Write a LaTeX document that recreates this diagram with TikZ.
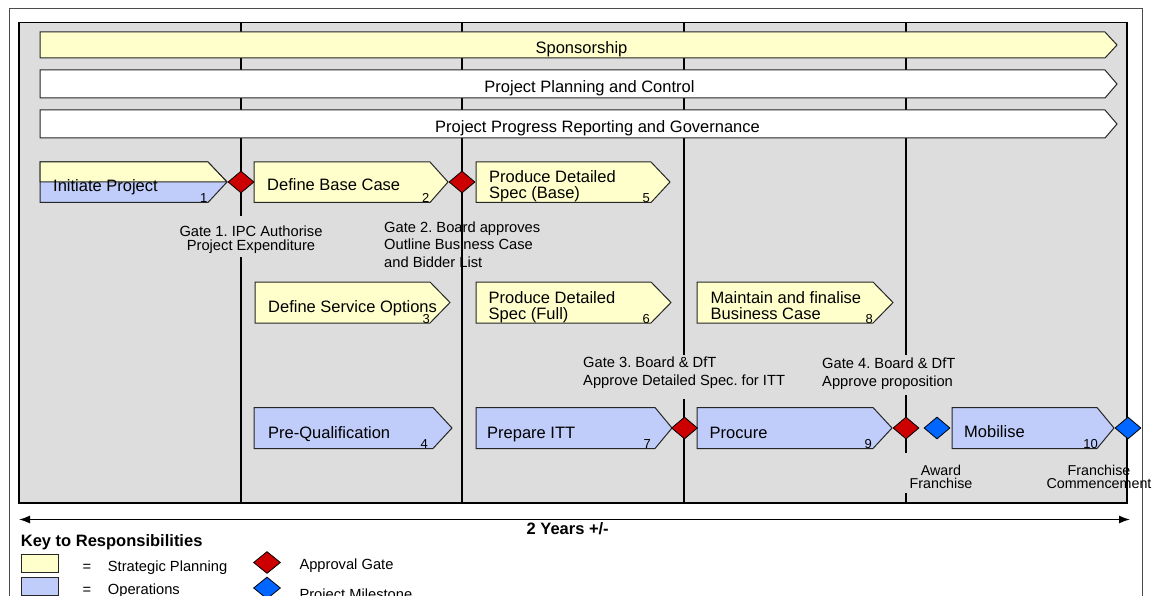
\documentclass[tikz,border=0pt]{standalone}
\usepackage{fontspec}
\setmainfont{Liberation Sans}
\usetikzlibrary{shapes.geometric}
\usetikzlibrary{arrows.meta}
\definecolor{planyellow}{HTML}{FFFFCC}
\definecolor{opsblue}{HTML}{C0CCFA}
\definecolor{panelgray}{HTML}{DDDDDD}
\definecolor{gatered}{HTML}{CC0000}
\definecolor{mileblue}{HTML}{0066FF}
\frenchspacing

\begin{document}
\begin{tikzpicture}[
x=1pt, y=-1pt,
every node/.style={inner sep=0},
bar/.style={draw=black!85, line width=1pt},
phase/.style={black, line width=1.5pt},
bartext/.style={anchor=base, font=\fontsize{16.5}{16}\selectfont},
tasktext/.style={anchor=base west, align=left, font=\fontsize{16.5}{15.6}\selectfont},
num/.style={anchor=base east, font=\fontsize{13}{13}\selectfont},
gatetext/.style={anchor=base west, align=left, font=\fontsize{14.7}{17.5}\selectfont},
gate/.style={diamond, draw=black, line width=0.8pt, fill=gatered, minimum width=26pt, minimum height=22pt},
milestone/.style={gate, fill=mileblue},
keytext/.style={anchor=base west, font=\fontsize{14.7}{14.7}\selectfont}
]
\clip (0,0) rectangle (1154,596);
% frame and panel
\draw[black!70, line width=1pt] (9.5,8.5) rectangle (1142,640);
\draw[fill=panelgray, line width=1.3pt] (19,22.5) rectangle (1127,503);
% phase lines
\draw[phase] (241,22.5) -- (241,216) (241,257) -- (241,503);
\draw[phase] (462,22.5) -- (462,503);
\draw[phase] (684,22.5) -- (684,355) (684,399) -- (684,503);
\draw[phase] (906,22.5) -- (906,355) (906,395) -- (906,453) (906,493) -- (906,503);

% full width bars
\draw[bar, fill=planyellow] (40,32) -- (1105,32) -- (1117,45) -- (1105,58) -- (40,58) -- cycle;
\draw[bar, fill=white] (40,70) -- (1105,70) -- (1117,84) -- (1105,98) -- (40,98) -- cycle;
\draw[bar, fill=white] (40,110) -- (1105,110) -- (1117,124) -- (1105,138) -- (40,138) -- cycle;
\node[bartext] (spons) at (581.5,53.5) {Sponsorship};
\node[bartext] (plan) at (589.5,93) {Project Planning and Control};
\node[bartext] (report) at (597.5,132.5) {Project Progress Reporting and Governance};

% row 1
\draw[bar, fill=opsblue] (40,162) -- (208,162) -- (227,182) -- (208,202.5) -- (40,202.5) -- cycle;
\draw[bar, fill=planyellow] (40,162) -- (208,162) -- (227,182) -- (40,182) -- cycle;
\node[tasktext] (init) at (53,191.7) {Initiate Project};
\node[num] (n1) at (207.5,202.5) {1};
\draw[bar, fill=planyellow] (254,162) -- (430,162) -- (448,182) -- (430,202.5) -- (254,202.5) -- cycle;
\node[tasktext] (base) at (267,190.7) {Define Base Case};
\node[num] (n2) at (429.5,202.5) {2};
\draw[bar, fill=planyellow] (476,162) -- (651,162) -- (670,182) -- (651,202.5) -- (476,202.5) -- cycle;
\node[tasktext] (specb) at (489,198.3) {Produce Detailed\\Spec (Base)};
\node[num] (n5) at (650,202.5) {5};
\node[gate] (g1) at (241,182) {};
\node[gate] (g2) at (462,182) {};

% row 2
\draw[bar, fill=planyellow] (255,282) -- (430,282) -- (450,302.5) -- (430,323) -- (255,323) -- cycle;
\node[tasktext] (opts) at (268,312.3) {Define Service Options};
\node[num] (n3) at (430,323) {3};
\draw[bar, fill=planyellow] (476,282) -- (651,282) -- (671,302.5) -- (651,323) -- (476,323) -- cycle;
\node[tasktext] (specf) at (488.5,319.3) {Produce Detailed\\Spec (Full)};
\node[num] (n6) at (650,323) {6};
\draw[bar, fill=planyellow] (697,282) -- (873,282) -- (893,302.5) -- (873,323) -- (697,323) -- cycle;
\node[tasktext] (bcase) at (710.5,319.3) {Maintain and finalise\\Business Case};
\node[num] (n8) at (873,323) {8};

% row 3
\draw[bar, fill=opsblue] (254,407.5) -- (433,407.5) -- (452,428) -- (433,448.5) -- (254,448.5) -- cycle;
\node[tasktext] (preq) at (268,438.3) {Pre-Qualification};
\node[num] (n4) at (428,448.5) {4};
\draw[bar, fill=opsblue] (476,407.5) -- (655,407.5) -- (672,428) -- (655,448.5) -- (476,448.5) -- cycle;
\node[tasktext] (itt) at (487,438.3) {Prepare ITT};
\node[num] (n7) at (651,448.5) {7};
\draw[bar, fill=opsblue] (697,407.5) -- (873,407.5) -- (892,428) -- (873,448.5) -- (697,448.5) -- cycle;
\node[tasktext] (proc) at (709.5,438.3) {Procure};
\node[num] (n9) at (872,448.5) {9};
\draw[bar, fill=opsblue] (952,407.5) -- (1097,407.5) -- (1114,428) -- (1097,448.5) -- (952,448.5) -- cycle;
\node[tasktext] (mob) at (964,437.3) {Mobilise};
\node[num] (n10) at (1098,448.5) {10};
\node[gate] (g3) at (684.5,428) {};
\node[gate] (g4) at (906,428) {};
\node[milestone] (m1) at (937,428) {};
\node[milestone] (m2) at (1128,428) {};

% gate and milestone labels
\node[gatetext, align=center, anchor=base, font=\fontsize{14.7}{14.3}\selectfont] (g1txt) at (251,251) {Gate 1. IPC Authorise\\Project Expenditure};
\node[gatetext] (g2txt) at (384,267.3) {Gate 2. Board approves\\Outline Business Case\\and Bidder List};
\node[gatetext] (g3txt) at (583,385) {Gate 3. Board \& DfT\\Approve Detailed Spec. for ITT};
\node[gatetext] (g4txt) at (822,386) {Gate 4. Board \& DfT\\Approve proposition};
\node[gatetext, align=center, anchor=base, font=\fontsize{14.3}{12.7}\selectfont] (m1txt) at (941,488.3) {Award\\Franchise};
\node[gatetext, align=center, anchor=base, font=\fontsize{14.3}{12.7}\selectfont] (m2txt) at (1099,488.3) {Franchise\\Commencement};

% duration
\coordinate (tstart) at (19,519.5);
\coordinate (tend) at (1130,519.5);
\draw[{Latex[length=11pt,width=8pt]}-{Latex[length=11pt,width=8pt]}, line width=1.3pt] (tstart) -- (tend);
\node[anchor=base, fill=white, inner xsep=6pt, inner ysep=2pt, font=\fontsize{16.5}{16}\selectfont\bfseries] (dur) at (567.7,534) {2 Years +/-};

% key
\node[anchor=base west, font=\fontsize{16.5}{16}\selectfont\bfseries] (key) at (20.7,546.7) {Key to Responsibilities};
\draw[bar, fill=planyellow] (21,554) rectangle (58,572);
\draw[bar, fill=opsblue] (21,577.5) rectangle (58,595);
\node[keytext, anchor=base] (eq1) at (87,571.7) {=};
\node[keytext, anchor=base] (eq2) at (87,594.7) {=};
\node[keytext] (kplan) at (107.7,571.7) {Strategic Planning};
\node[keytext] (kops) at (107.7,594.7) {Operations};
\node[gate, minimum width=27pt] (kgate) at (267,562.5) {};
\node[milestone, minimum width=27pt] (kmile) at (267,588) {};
\node[keytext] (kgatetxt) at (299.3,569.3) {Approval Gate};
\node[keytext] (kmiletxt) at (299.3,599) {Project Milestone};
\end{tikzpicture}
\end{document}
